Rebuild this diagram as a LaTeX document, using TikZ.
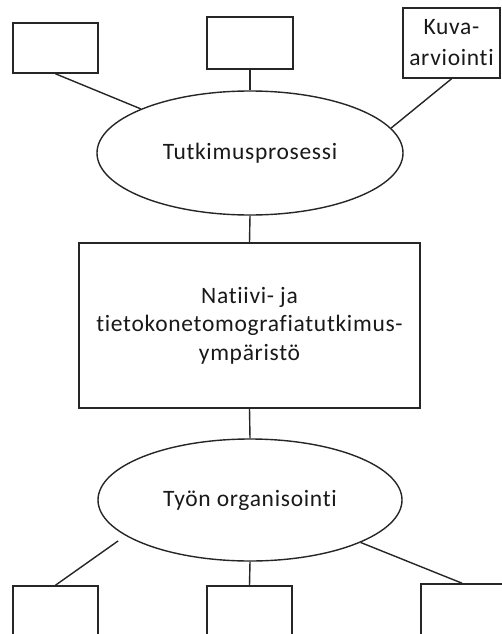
\documentclass[tikz,border=0pt]{standalone}
\usepackage{fontspec}
\setmainfont{Carlito}[Ligatures=NoCommon, LetterSpace=3]
\usetikzlibrary{shapes.geometric,calc}
\begin{document}
\begin{tikzpicture}[x=1pt,y=-1pt,
  every node/.style={font=\fontsize{23.5}{28.5}\selectfont, text=black!90, inner sep=0pt},
  box/.style={draw=black!85, line width=1.6pt, rectangle, align=center},
  oval/.style={draw=black!85, line width=1.4pt, ellipse, align=center},
  link/.style={draw=black!85, line width=1.4pt}]
  \clip (0,0) rectangle (502,634);
  \useasboundingbox (0,0) rectangle (502,634);
  \fill[white] (0,0) rectangle (502,634);

  % upper level
  \node[box, minimum width=85pt, minimum height=50pt] (tl) at (55.5,48) {};
  \node[box, minimum width=86pt, minimum height=52pt] (tm) at (250,43) {};
  \node[box, minimum width=97pt, minimum height=70pt,
        font=\fontsize{23.5}{31}\selectfont] (tr) at (451.5,43) {Kuva-\\arviointi};
  \node[oval, minimum width=306pt, minimum height=124pt] (e1) at (250,153) {Tutkimusprosessi};

  % central environment
  \node[box, minimum width=341pt, minimum height=165pt] (env) at (249.5,325.5)
    {Natiivi- ja\\tietokonetomografiatutkimus-\\ympäristö};

  % lower level
  \node[oval, minimum width=304pt, minimum height=122pt] (e2) at (250,500) {Työn organisointi};
  \node[box, minimum width=85pt, minimum height=60pt] (bl) at (55.5,616) {};
  \node[box, minimum width=85pt, minimum height=60pt] (bm) at (249.5,616) {};
  \node[box, minimum width=98pt, minimum height=62pt] (br) at (470,615) {};

  % connectors
  \draw[link] (tl.south) -- (e1.158);
  \draw[link] (tm.south) -- (e1.north);
  \draw[link] (tr.south) -- (e1.10);
  \draw[link] (e1.south) -- (env.north);
  \draw[link] (env.south) -- (e2.north);
  \draw[link, shorten >=9pt] (bl.north) -- (e2.196);
  \draw[link] (e2.south) -- (bm.north);
  \draw[link] ([xshift=-8pt]br.north) -- (e2.339);
\end{tikzpicture}
\end{document}
